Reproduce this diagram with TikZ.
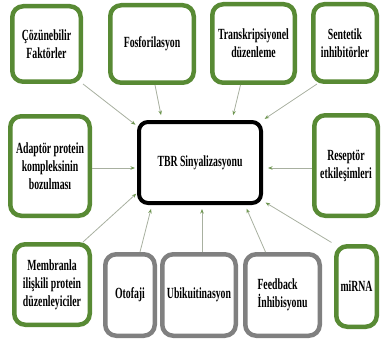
\documentclass[tikz,border=0pt]{standalone}
\usepackage{fontspec}
\newfontfamily\boxfont[FakeStretch=0.63]{Liberation Serif}
\usetikzlibrary{arrows.meta,calc}
\definecolor{boxgreen}{RGB}{88,138,52}
\definecolor{boxgray}{RGB}{128,128,128}
\definecolor{connline}{RGB}{168,176,160}
\definecolor{tipgreen}{RGB}{110,150,80}
\begin{document}
\begin{tikzpicture}[x=1pt,y=-1pt,
  base/.style={rounded corners=11pt, fill=white, inner sep=0pt, align=center,
    font=\boxfont\bfseries\fontsize{15.5}{18}\selectfont},
  gbox/.style={base, draw=boxgreen, line width=4.5pt},
  graybox/.style={base, draw=boxgray, line width=4.5pt},
  hub/.style={base, draw=black, line width=4pt, rounded corners=9pt},
  conn/.style={draw=connline, line width=0.8pt, -{Stealth[length=4.5pt,width=3.5pt,color=tipgreen]}}
]
\useasboundingbox (0,0) rectangle (382,342);

\node[gbox, minimum width=68.5pt, minimum height=75.5pt] (A) at (46.5,44) {Çözünebilir\\Faktörler};
\node[gbox, minimum width=83.5pt, minimum height=77.5pt] (B) at (152,44) {Fosforilasyon};
\node[gbox, minimum width=82.5pt, minimum height=78.5pt] (C) at (253.5,43.5) {Transkripsiyonel\\düzenleme};
\node[gbox, minimum width=63.5pt, minimum height=77.5pt] (D) at (345,43) {Sentetik\\inhibitörler};
\node[gbox, minimum width=79.5pt, minimum height=99.5pt] (E) at (50,166) {Adaptör protein\\kompleksinin\\bozulması};
\node[hub, minimum width=122pt, minimum height=81pt] (tbr) at (200,162.5) {TBR Sinyalizasyonu};
\node[gbox, minimum width=63.5pt, minimum height=100.5pt] (F) at (346,165.5) {Reseptör\\etkileşimleri};
\node[gbox, minimum width=75.5pt, minimum height=80.5pt] (G) at (52,284.5) {Membranla\\ilişkili protein\\düzenleyiciler};
\node[graybox, minimum width=49.5pt, minimum height=81.5pt] (H) at (130,295) {Otofaji};
\node[graybox, minimum width=73.5pt, minimum height=81.5pt] (I) at (199,295) {Ubikuitinasyon};
\node[graybox, minimum width=74.5pt, minimum height=81.5pt, align=left] (J) at (282.5,295) {Feedback\\İnhibisyonu};
\node[gbox, minimum width=40.5pt, minimum height=80.5pt] (K) at (356.5,286.5) {miRNA};

\draw[conn, shorten >=2pt] (A.south east) -- ([yshift=-6pt]tbr.north west);
\draw[conn, shorten >=5pt] ([xshift=3pt]B.south) -- ([xshift=25pt]tbr.north west);
\draw[conn, shorten >=5pt] ([xshift=-13pt]C.south) -- ([xshift=-31pt]tbr.north east);
\draw[conn, shorten >=2pt] ([xshift=6pt]D.south west) -- (tbr.north east);
\draw[conn, shorten >=2pt] ([yshift=-2pt]E.east) -- ([yshift=-5.5pt]tbr.west);
\draw[conn, shorten >=5pt] ([yshift=-2.5pt]F.west) -- ([yshift=-5.5pt]tbr.east);
\draw[conn, shorten >=1pt] ([xshift=-9pt]G.north east) -- ([yshift=12pt]tbr.south west);
\draw[conn, shorten >=4pt] ([xshift=10pt]H.north) -- ([xshift=15pt]tbr.south west);
\draw[conn, shorten >=4pt] ([xshift=3pt]I.north) -- ([xshift=2pt]tbr.south);
\draw[conn, shorten >=4pt] ([xshift=-17pt]J.north) -- ([xshift=-18pt]tbr.south east);
\draw[conn, shorten <=3pt, shorten >=3pt] (K.north west) -- ([yshift=4pt]tbr.south east);
\end{tikzpicture}
\end{document}
